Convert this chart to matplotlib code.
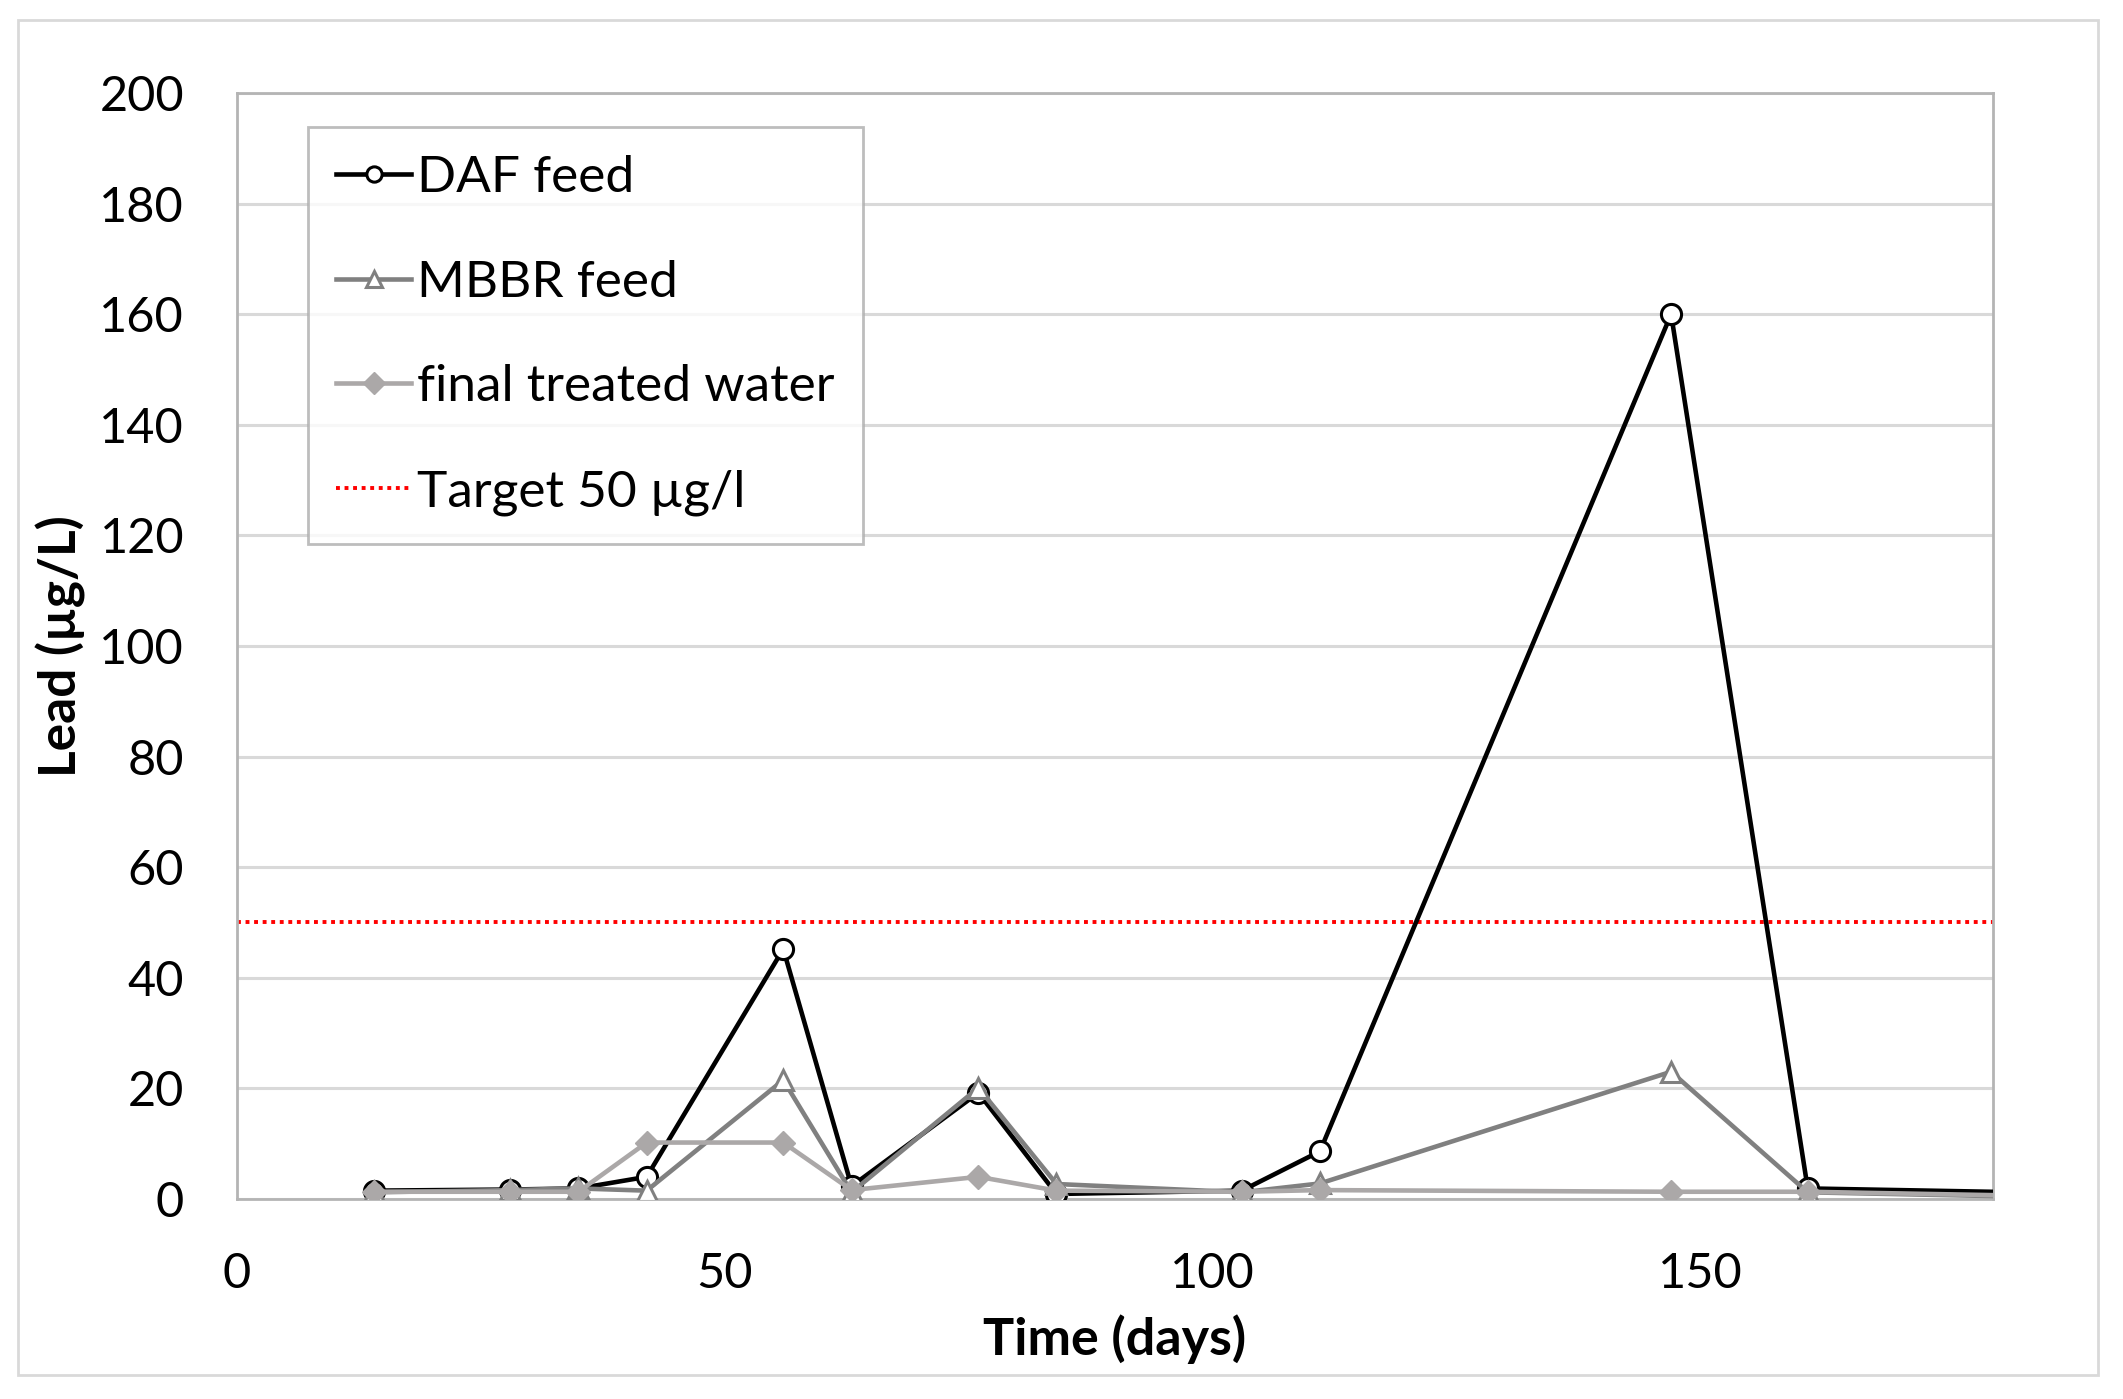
import matplotlib
matplotlib.use('Agg')
import matplotlib.pyplot as plt
from matplotlib.patches import Rectangle

# sampling days (last one lies past the axis end, only its line shows)
days = [14, 28, 35, 42, 56, 63, 76, 84, 103, 111, 147, 161, 189]
daf_feed = [1.5, 1.7, 1.9, 4.0, 45.2, 2.3, 19.2, 0.9, 1.5, 8.6, 160.0, 1.9, 1.0]
mbbr_feed = [1.2, 1.6, 1.9, 1.5, 21.5, 1.2, 20.1, 2.7, 1.2, 2.8, 23.0, 1.2, 0.2]
final_water = [1.3, 1.3, 1.3, 10.2, 10.2, 1.6, 4.0, 1.5, 1.3, 1.6, 1.3, 1.3, 0.4]
target = 50

x_ticks = [0, 50, 100, 150]
y_ticks = [0, 20, 40, 60, 80, 100, 120, 140, 160, 180, 200]

plt.rcParams['font.family'] = ['Lato', 'DejaVu Sans']

fig = plt.figure(figsize=(21.23, 13.99), dpi=100)
ax = fig.add_axes([0.1116, 0.1430, 0.8272, 0.7905])

ax.plot(days, daf_feed, color='black', lw=3.3, marker='o', ms=14.5,
        mfc='white', mec='black', mew=2.2, label='DAF feed', zorder=3)
ax.plot(days, mbbr_feed, color='#808080', lw=3.3, marker='^', ms=14.5,
        mfc='white', mec='#808080', mew=2.2, label='MBBR feed', zorder=4)
ax.plot(days, final_water, color='#ABA8A8', lw=3.3, marker='D', ms=12,
        mfc='#ABA8A8', mec='#ABA8A8', mew=1, label='final treated water', zorder=5)
ax.axhline(target, color='#FF0000', lw=2.8, ls=(0, (1, 1.2)),
           label='Target 50 µg/l', zorder=2)

ax.set_xlim(0, 180)
ax.set_ylim(0, 200)
ax.set_xticks(x_ticks)
ax.set_yticks(y_ticks)
ax.tick_params(length=0, labelsize=35, pad=38)
ax.grid(axis='y', color='#D9D9D9', lw=2.2)
ax.set_axisbelow(True)
for s in ax.spines.values():
    s.set_color('#B4B4B4')
    s.set_linewidth(2)

ax.set_xlabel('Time (days)', fontsize=37.5, fontweight='bold', va='baseline')
ax.xaxis.set_label_coords(0.5, -0.141)
ax.set_ylabel('Lead (µg/L)', fontsize=37, fontweight='bold',
              va='center', ha='center', rotation_mode='anchor')
ax.yaxis.set_label_coords(-0.100, 0.5)

leg = ax.legend(loc='upper left', bbox_to_anchor=(308 / 2123, 1 - 127 / 1399),
                bbox_transform=fig.transFigure, borderaxespad=0, fontsize=37,
                frameon=True, fancybox=False, edgecolor='#ADADAD',
                handlelength=1.45, handletextpad=0.12, labelspacing=1.14,
                borderpad=0.55)
leg.get_frame().set_linewidth(2)
for h in leg.legend_handles:
    h.set_markersize(11)

# outer chart border
fig.patches.append(Rectangle((18 / 2123, 1 - 1375 / 1399), 2080 / 2123, 1355 / 1399,
                             transform=fig.transFigure, fill=False,
                             edgecolor='#D9D9D9', lw=2))

fig.savefig('out.png', dpi=100)
